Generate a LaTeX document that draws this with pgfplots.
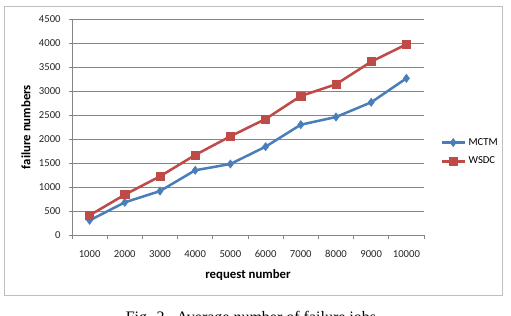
\documentclass[border=0pt]{standalone}
\usepackage{pgfplots}
\pgfplotsset{compat=1.18}
\usepackage{fontspec}
\setmainfont{Carlito}
\newfontfamily\capfont{Liberation Serif}
\definecolor{mctm}{HTML}{4A7EBB}
\definecolor{wsdc}{HTML}{BE4B48}
\definecolor{gridc}{HTML}{868686}
\definecolor{framec}{HTML}{BFBFBF}
\begin{document}
\begin{tikzpicture}
\useasboundingbox (0pt,0pt) rectangle (383.25pt,-237pt);
\clip (0pt,0pt) rectangle (383.25pt,-237pt);
\fill[white] (0pt,0pt) rectangle (383.25pt,-237pt);
\draw[framec, line width=0.75pt] (3pt,-5.25pt) rectangle (376.5pt,-222pt);
\begin{axis}[
  at={(54pt,-176.25pt)}, anchor=south west,
  scale only axis, width=264pt, height=162pt,
  xmin=0.5, xmax=10.5, ymin=0, ymax=4500,
  xtick={1,...,10},
  xticklabels={1000,2000,3000,4000,5000,6000,7000,8000,9000,10000},
  minor xtick={0.5,1.5,...,10.5},
  ytick={0,500,...,4500},
  axis x line*=bottom, axis y line*=left,
  axis line style={gridc, line width=0.6pt, -},
  major x tick style={draw=none},
  minor x tick style={gridc, line width=0.6pt},
  y tick style={gridc, line width=0.6pt},
  tick align=outside,
  major tick length=2.5pt, minor tick length=3pt,
  ymajorgrids, grid style={gridc, line width=0.6pt},
  tick label style={font=\fontsize{8}{9}\selectfont, text=black!85},
  /pgf/number format/assume math mode=true,
  /pgf/number format/set thousands separator={},
  xticklabel style={yshift=-5.5pt},
  yticklabel style={xshift=-2.5pt},
  xlabel={\textbf{request number}}, ylabel={\textbf{failure numbers}},
  label style={font=\fontsize{9.6}{11}\selectfont},
  xlabel style={at={(axis description cs:0.5,-0.185)}, anchor=center},
  ylabel style={at={(axis description cs:-0.131,0.5)}, anchor=center},
  legend style={at={(axis description cs:1.035,0.384)}, anchor=west, draw=none, fill=none,
    font=\fontsize{8}{9}\selectfont, row sep=3.5pt},
  legend cell align=left,
  clip=false,
]
\addplot[mctm, line width=1.9pt, mark=diamond*, mark size=3pt, mark options={fill=mctm, line width=0.5pt}]
  coordinates {(1,305) (2,680) (3,915) (4,1348) (5,1479) (6,1840) (7,2298) (8,2458) (9,2764) (10,3264)};
\addlegendentry{MCTM}
\addplot[wsdc, line width=1.9pt, mark=square*, mark size=3.1pt, mark options={fill=wsdc, line width=0.5pt}]
  coordinates {(1,410) (2,840) (3,1222) (4,1667) (5,2056) (6,2417) (7,2896) (8,3140) (9,3611) (10,3972)};
\addlegendentry{WSDC}
\end{axis}
\node[anchor=base, font=\capfont\fontsize{12}{14}\selectfont] at (188.25pt,-241.9pt) {Fig. 2.\ \ Average number of failure jobs};
\end{tikzpicture}
\end{document}
